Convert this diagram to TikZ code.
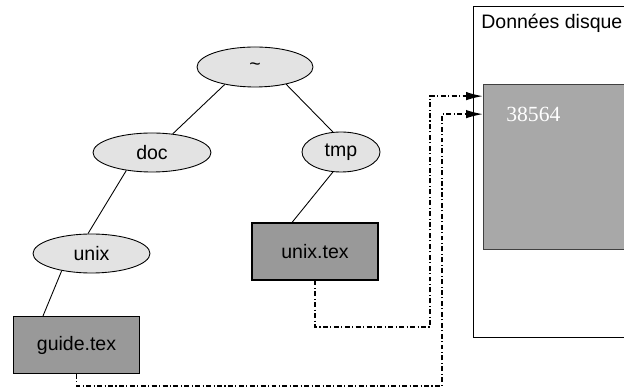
\documentclass[tikz,border=0pt]{standalone}
\usepackage{fontspec}
\setmainfont{Liberation Sans}
\newfontfamily\numfont{Liberation Serif}
\usepackage{xcolor}
\definecolor{fichgray}{gray}{0.60}
\definecolor{blocgray}{gray}{0.66}
\definecolor{repgray}{gray}{0.89}
\usepackage{tikz}
\usetikzlibrary{positioning,arrows.meta,calc,shapes}

\begin{document}
\begin{tikzpicture}[scale=1,
	every node/.style={font=\fontsize{11.1}{13}\selectfont},
	rep/.style={ellipse,draw,fill=repgray,line width=0.5pt,inner sep=0pt},
	fich/.style={rectangle,draw,fill=fichgray,line width=0.6pt,minimum width=2.52cm,minimum height=1.14cm},
	arete/.style={line width=0.5pt},
	lien/.style={line width=0.85pt,dash pattern=on 2.8pt off 1.4pt on 0.6pt off 1.4pt,-{Latex[length=0.34cm,width=0.17cm]}}]
	\clip (0,0) rectangle (12.48,7.8);
	
	% draw disk data
	\node[draw,rectangle,line width=0.6pt,minimum width=3.4cm,minimum height=6.62cm,anchor=south west] (disque) at (9.46,1.04) {};
	\node[anchor=north west,inner sep=0pt] (titre) at ([xshift=0.16cm,yshift=-0.16cm]disque.north west) {Données disque};
	\node[draw=black!75,fill=blocgray,rectangle,line width=0.5pt,minimum width=3.2cm,minimum height=3.30cm,anchor=south west] (bloc) at (9.66,2.80) {};
	\node[anchor=west,text=white,inner sep=0pt,font=\numfont\fontsize{12.3}{14}\selectfont] (num) at (10.12,5.51) {38564};
	
	% draw nodes
	\node[rep,minimum width=2.32cm,minimum height=0.80cm] (tilde) at (5.10,6.46) {\textasciitilde};
	\node[rep,minimum width=2.36cm,minimum height=0.78cm] (doc) at (3.04,4.75) {doc};
	\node[rep,minimum width=1.56cm,minimum height=0.80cm] (tmp) at (6.82,4.76) {tmp};
	\node[rep,minimum width=2.34cm,minimum height=0.78cm] (unix) at (1.83,2.73) {unix};
	\node[fich] (unixtex) at (6.30,2.77) {unix.tex};
	\node[fich] (guidetex) at (1.53,0.90) {guide.tex};
	
	% draw edges
	\draw[arete] (tilde.210) -- (doc.42);
	\draw[arete] (tilde.331) -- (tmp.112);
	\draw[arete] (doc.215) -- (unix.100);
	\draw[arete] (unix.210) -- ([xshift=-0.67cm]guidetex.north);
	\draw[arete] (tmp.248) -- ([xshift=-0.46cm]unixtex.north);
	
	%%% links to disk
	\coordinate (k1) at (8.60,1.26);
	\coordinate (k2) at (8.84,0.08);
	\draw[lien] (unixtex.south) |- (k1) |- ([yshift=-0.24cm]bloc.north west);
	\draw[lien] (guidetex.south) |- (k2) |- ([yshift=-0.60cm]bloc.north west);
	
\end{tikzpicture}
\end{document}
